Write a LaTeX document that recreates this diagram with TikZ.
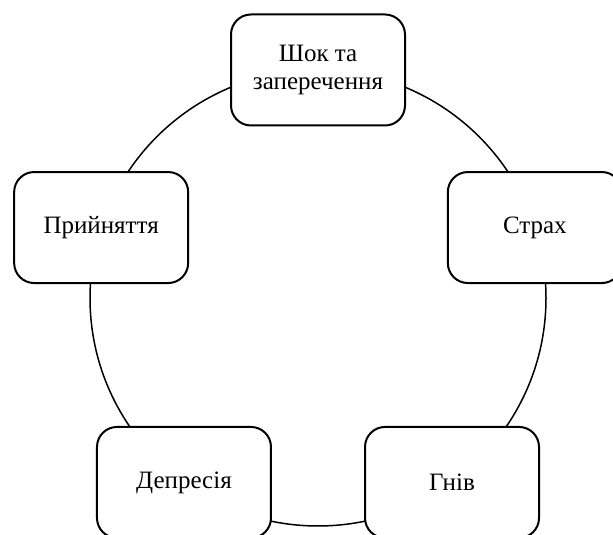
\documentclass[tikz,border=0pt]{standalone}
\usepackage{fontspec}
\setmainfont{Liberation Serif}
\usepackage{tikz}
\usetikzlibrary{positioning, calc}

\begin{document}
\begin{tikzpicture}[
    x=1pt, y=1pt,
    stage/.style={draw, line width=2pt, rounded corners=20pt, fill=white, minimum width=174pt, minimum height=111pt, align=center, font=\fontsize{25}{28}\selectfont},
    ring/.style={line width=1.5pt},
]
\clip (0,0) rectangle (613,535);
\useasboundingbox (0,0) rectangle (613,535);

% cycle behind the stages
\coordinate (centre) at (318,237);
\draw[ring] (centre) circle [radius=228pt];

\node[stage] (shock) at ($(centre)+(90:228pt)$) {Шок та\\заперечення};
\node[stage] (fear) at ($(centre)+(18:228pt)$) {Страх};
\node[stage] (anger) at ($(centre)+(-54:228pt)$) {Гнів};
\node[stage] (depr) at ($(centre)+(-126:228pt)$) {Депресія};
\node[stage] (accept) at ($(centre)+(162:228pt)$) {Прийняття};

\end{tikzpicture}
\end{document}
